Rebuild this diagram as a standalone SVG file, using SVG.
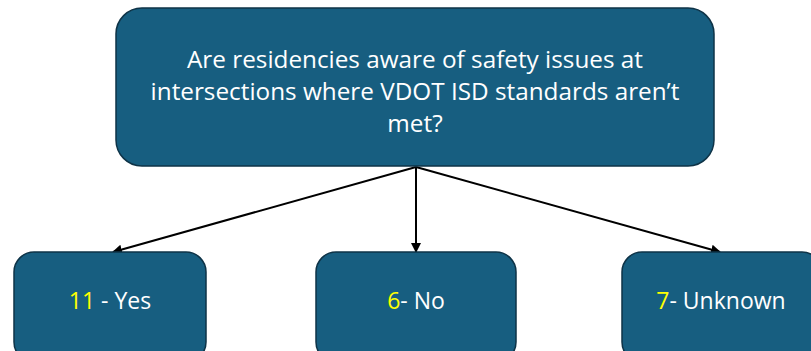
<svg xmlns="http://www.w3.org/2000/svg" width="811" height="351" viewBox="0 0 811 351">
<style>
.box{fill:#175E80;stroke:#0E3347;stroke-width:1.5}
.t{font-family:"Open Sans","Liberation Sans",sans-serif;fill:#FFFFFF;text-anchor:middle}
.y{fill:#FFFF00}
.c{stroke:#000;stroke-width:2;fill:none;marker-end:url(#ah)}
</style>
<defs>
<marker id="ah" markerWidth="10" markerHeight="10" refX="9" refY="5" orient="auto" markerUnits="userSpaceOnUse">
<path d="M0,0 L10,5 L0,10 z" fill="#000"/>
</marker>
</defs>
<rect width="811" height="351" fill="#FFFFFF"/>
<g id="connectors">
<line class="c" x1="416" y1="167" x2="113" y2="252"/>
<line class="c" x1="416" y1="167" x2="416" y2="252"/>
<line class="c" x1="416" y1="167" x2="720" y2="252"/>
</g>
<g id="question">
<rect class="box" x="116" y="8" width="598" height="158" rx="26"/>
<text class="t" font-size="24.3"><tspan x="415" y="68">Are residencies aware of safety issues at</tspan><tspan x="415" y="100">intersections where VDOT ISD standards aren’t</tspan><tspan x="415" y="132">met?</tspan></text>
</g>
<g id="yes">
<rect class="box" x="14" y="252" width="192" height="110" rx="20"/>
<text class="t" font-size="23" x="110" y="309"><tspan class="y">11</tspan> - Yes</text>
</g>
<g id="no">
<rect class="box" x="316" y="252" width="200" height="110" rx="20"/>
<text class="t" font-size="23" x="416" y="309"><tspan class="y">6</tspan>- No</text>
</g>
<g id="unknown">
<rect class="box" x="622" y="252" width="200" height="110" rx="20"/>
<text class="t" font-size="23" x="721" y="309"><tspan class="y">7</tspan>- Unknown</text>
</g>
</svg>
